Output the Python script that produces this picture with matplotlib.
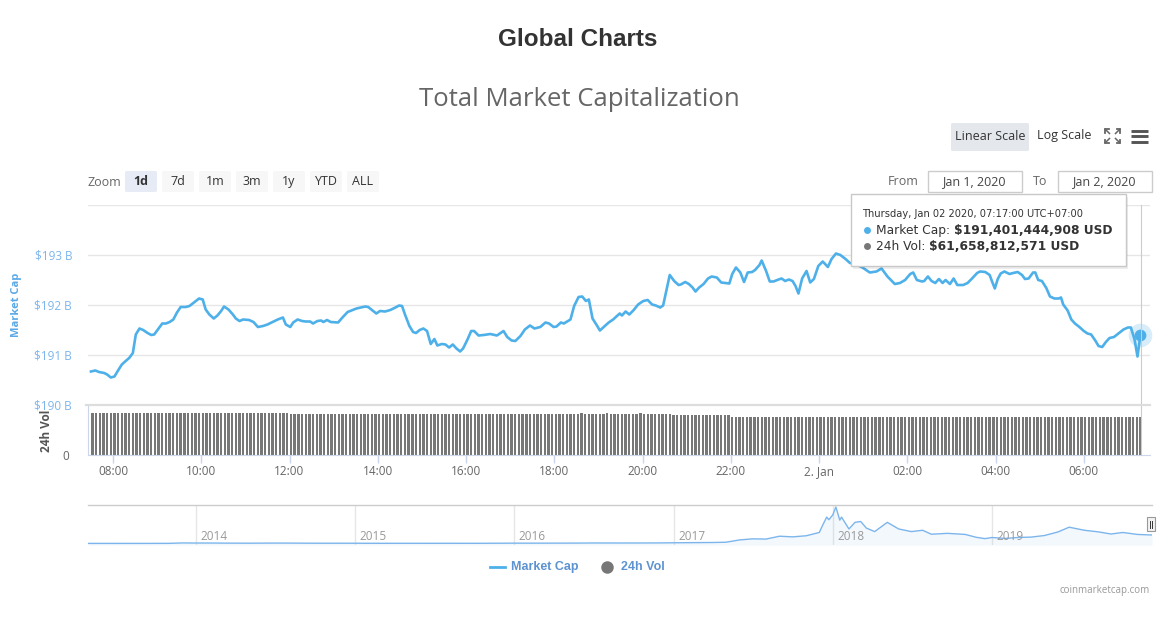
import matplotlib
matplotlib.use("Agg")
import matplotlib.pyplot as plt
import pandas as pd
from matplotlib.patches import Rectangle, FancyBboxPatch
from matplotlib.lines import Line2D

W, H = 1168, 622
plt.rcParams['font.family'] = ['Open Sans', 'DejaVu Sans']

# ---------------- data ----------------
# market cap (billion USD), time = minutes since 2020-01-01 00:00 (UTC+7)
mc_minutes = [
    450, 456, 461, 468, 472, 477, 482, 486, 492, 498, 502, 507, 511, 516, 521, 527, 532, 536, 541, 547,
    552, 557, 562, 567, 572, 579, 584, 591, 597, 602, 606, 611, 617, 622, 627, 631, 637, 643, 647, 652,
    657, 665, 671, 677, 684, 690, 697, 704, 711, 715, 721, 725, 731, 737, 742, 748, 752, 758, 763, 766,
    771, 776, 786, 792, 799, 806, 811, 823, 827, 832, 838, 843, 850, 857, 864, 869, 873, 877, 883, 888,
    892, 897, 902, 907, 912, 917, 921, 927, 932, 937, 942, 947, 952, 956, 962, 967, 971, 977, 984, 993,
    1002, 1011, 1016, 1022, 1027, 1034, 1040, 1047, 1053, 1061, 1068, 1073, 1079, 1083, 1089, 1093, 1102, 1107, 1113, 1118,
    1123, 1127, 1132, 1138, 1142, 1148, 1154, 1160, 1169, 1172, 1177, 1182, 1188, 1194, 1201, 1207, 1213, 1218, 1224, 1228,
    1237, 1243, 1249, 1252, 1258, 1263, 1268, 1272, 1277, 1283, 1289, 1294, 1301, 1307, 1312, 1318, 1322, 1327, 1333, 1338,
    1343, 1349, 1353, 1359, 1362, 1368, 1373, 1378, 1385, 1389, 1394, 1399, 1404, 1408, 1412, 1417, 1423, 1428, 1433, 1439,
    1445, 1452, 1457, 1463, 1469, 1476, 1482, 1489, 1499, 1509, 1518, 1525, 1533, 1539, 1543, 1550, 1557, 1564, 1568, 1573,
    1580, 1583, 1588, 1593, 1598, 1603, 1608, 1612, 1618, 1623, 1628, 1636, 1642, 1648, 1655, 1659, 1666, 1672, 1675, 1679,
    1683, 1687, 1692, 1699, 1704, 1710, 1716, 1720, 1725, 1731, 1734, 1738, 1743, 1749, 1754, 1760, 1766, 1769, 1772, 1778,
    1783, 1788, 1794, 1800, 1805, 1810, 1816, 1820, 1825, 1830, 1835, 1841, 1848, 1854, 1860, 1864, 1869, 1873, 1877,
]
mc_values = [
    190.67, 190.69, 190.66, 190.64, 190.61, 190.55, 190.57, 190.67, 190.81, 190.89, 190.94, 191.04, 191.41, 191.53, 191.50, 191.44, 191.40, 191.41, 191.51, 191.63,
    191.63, 191.66, 191.71, 191.85, 191.96, 191.96, 191.98, 192.06, 192.13, 192.11, 191.91, 191.81, 191.73, 191.79, 191.88, 191.97, 191.91, 191.81, 191.73, 191.68,
    191.71, 191.70, 191.66, 191.56, 191.58, 191.61, 191.66, 191.71, 191.75, 191.61, 191.56, 191.65, 191.71, 191.68, 191.67, 191.67, 191.63, 191.68, 191.69, 191.66,
    191.70, 191.66, 191.65, 191.75, 191.86, 191.90, 191.93, 191.97, 191.96, 191.90, 191.83, 191.88, 191.87, 191.90, 191.95, 191.99, 191.98, 191.81, 191.58, 191.46,
    191.44, 191.50, 191.53, 191.48, 191.22, 191.32, 191.19, 191.22, 191.21, 191.15, 191.21, 191.13, 191.07, 191.13, 191.31, 191.48, 191.48, 191.39, 191.40, 191.42,
    191.39, 191.48, 191.36, 191.29, 191.28, 191.38, 191.51, 191.59, 191.53, 191.56, 191.65, 191.63, 191.56, 191.57, 191.65, 191.63, 191.71, 191.98, 192.16, 192.17,
    192.08, 192.11, 191.73, 191.59, 191.49, 191.57, 191.65, 191.71, 191.83, 191.79, 191.87, 191.81, 191.90, 192.01, 192.08, 192.10, 192.01, 191.99, 191.95, 191.99,
    192.60, 192.48, 192.40, 192.41, 192.46, 192.42, 192.35, 192.27, 192.35, 192.42, 192.53, 192.57, 192.55, 192.45, 192.44, 192.43, 192.62, 192.75, 192.65, 192.46,
    192.65, 192.66, 192.70, 192.80, 192.89, 192.68, 192.47, 192.47, 192.51, 192.53, 192.48, 192.51, 192.48, 192.38, 192.23, 192.53, 192.68, 192.45, 192.52, 192.78,
    192.87, 192.76, 192.92, 193.03, 193.00, 192.92, 192.84, 192.82, 192.75, 192.65, 192.67, 192.73, 192.57, 192.48, 192.42, 192.44, 192.50, 192.62, 192.65, 192.50,
    192.47, 192.48, 192.57, 192.48, 192.44, 192.52, 192.44, 192.50, 192.42, 192.53, 192.40, 192.40, 192.44, 192.53, 192.64, 192.67, 192.66, 192.60, 192.48, 192.33,
    192.52, 192.63, 192.67, 192.62, 192.64, 192.66, 192.60, 192.52, 192.53, 192.65, 192.65, 192.50, 192.48, 192.34, 192.17, 192.13, 192.13, 192.15, 192.01, 191.89,
    191.71, 191.63, 191.56, 191.48, 191.43, 191.41, 191.28, 191.18, 191.16, 191.26, 191.34, 191.36, 191.44, 191.51, 191.55, 191.55, 191.31, 190.97, 191.40,
]

# 24h volume (billion USD), one bar every 5 minutes starting 07:32
vol_start_minute = 452
vol_step_minutes = 5
vol_values = [
    69.4, 69.4, 69.5, 69.4, 69.4, 69.3, 69.4, 69.4, 69.5, 69.4, 69.4, 69.4,
    69.4, 69.5, 69.4, 69.4, 69.3, 69.4, 69.4, 69.4, 69.4, 69.5, 69.4, 69.4,
    69.4, 69.4, 69.4, 69.3, 69.4, 69.4, 69.5, 69.4, 69.4, 69.4, 69.4, 69.4,
    69.4, 69.4, 69.3, 69.4, 69.4, 69.4, 69.4, 69.5, 69.4, 69.4, 69.3, 69.4,
    69.4, 69.4, 69.4, 69.4, 69.3, 69.4, 67.2, 67.2, 67.3, 67.2, 67.2, 67.1,
    67.2, 67.2, 67.2, 67.3, 67.2, 67.2, 67.1, 67.2, 67.2, 67.2, 67.3, 67.2,
    67.2, 67.2, 67.1, 67.2, 67.2, 67.2, 67.2, 67.3, 67.2, 67.2, 67.2, 67.1,
    67.2, 67.2, 67.3, 67.2, 67.2, 67.2, 67.2, 67.1, 67.2, 67.2, 67.2, 67.3,
    67.2, 67.2, 67.2, 67.2, 67.1, 67.2, 67.2, 67.3, 67.2, 67.2, 67.2, 67.2,
    67.2, 67.3, 67.2, 67.2, 67.1, 67.2, 67.2, 67.2, 67.2, 67.3, 67.2, 67.2,
    67.2, 67.2, 67.2, 67.1, 67.2, 67.2, 67.3, 67.2, 67.2, 67.2, 67.2, 67.2,
    68.0, 68.1, 68.0, 68.0, 68.0, 67.9, 68.0, 68.0, 68.1, 68.0, 68.0, 68.0,
    68.0, 68.0, 67.9, 68.0, 68.0, 68.1, 68.0, 68.0, 68.0, 68.0, 68.0, 67.9,
    68.0, 68.0, 65.0, 65.0, 65.1, 65.0, 65.0, 64.9, 65.0, 65.0, 65.0, 65.1,
    65.0, 65.0, 65.0, 64.9, 65.0, 65.0, 62.6, 62.4, 62.8, 62.5, 62.3, 62.6,
    62.4, 62.7, 62.2, 62.5, 62.3, 62.6, 62.1, 62.4, 62.6, 62.2, 62.5, 62.3,
    62.0, 62.4, 62.6, 62.1, 62.3, 62.5, 62.2, 62.0, 62.4, 62.3, 62.6, 62.1,
    62.3, 62.0, 62.2, 62.5, 62.1, 62.3, 62.0, 62.4, 62.2, 61.9, 62.3, 62.1,
    62.0, 62.3, 61.8, 62.1, 62.4, 62.0, 62.2, 61.8, 62.1, 62.3, 61.9, 62.0,
    62.2, 61.8, 62.0, 62.3, 61.9, 62.1, 61.7, 62.0, 62.2, 61.8, 62.0, 61.9,
    61.7, 62.0, 62.2, 61.8, 61.9, 62.1, 61.7, 61.9, 62.0, 61.6, 61.9, 62.1,
    61.8, 61.6, 61.9, 62.0, 61.7, 61.9, 61.6, 61.8, 62.0, 61.7, 61.8, 61.9,
    61.7, 61.9, 61.6, 61.8, 62.0, 61.7, 61.6, 61.9, 61.8, 61.7, 61.9, 61.6,
    61.8, 61.7, 61.9, 61.6, 61.8, 61.9, 61.7, 61.8, 61.7, 61.66,
]

tick_minutes = [480, 600, 720, 840, 960, 1080, 1200, 1320, 1440, 1560, 1680, 1800]
tick_labels = ["08:00", "10:00", "12:00", "14:00", "16:00", "18:00", "20:00", "22:00",
               "2. Jan", "02:00", "04:00", "06:00"]
price_ticks = [190, 191, 192, 193, 194]
price_tick_labels = ["$190 B", "$191 B", "$192 B", "$193 B", ""]

# navigator: total market cap history (billion USD)
nav_dates = [
    "2013-04-28", "2013-05-31", "2013-06-30", "2013-07-31", "2013-08-31", "2013-09-30", "2013-10-31", "2013-11-30", "2013-12-31",
    "2014-01-31", "2014-02-28", "2014-03-31", "2014-04-30", "2014-05-31", "2014-06-30", "2014-07-31", "2014-08-31", "2014-09-30", "2014-10-31", "2014-11-30", "2014-12-31",
    "2015-01-31", "2015-02-28", "2015-03-31", "2015-04-30", "2015-05-31", "2015-06-30", "2015-07-31", "2015-08-31", "2015-09-30", "2015-10-31", "2015-11-30", "2015-12-31",
    "2016-01-31", "2016-02-29", "2016-03-31", "2016-04-30", "2016-05-31", "2016-06-30", "2016-07-31", "2016-08-31", "2016-09-30", "2016-10-31", "2016-11-30", "2016-12-31",
    "2017-01-31", "2017-02-28", "2017-03-31", "2017-04-30", "2017-05-31", "2017-06-30", "2017-07-31", "2017-08-31", "2017-09-30", "2017-10-31", "2017-11-30",
    "2017-12-08", "2017-12-17", "2017-12-22", "2017-12-31", "2018-01-07", "2018-01-16", "2018-01-20", "2018-02-06", "2018-02-20", "2018-03-05", "2018-03-18",
    "2018-04-06", "2018-05-05", "2018-05-31", "2018-06-29", "2018-07-25", "2018-08-14", "2018-09-20", "2018-10-31", "2018-11-25", "2018-12-15", "2018-12-31",
    "2019-01-31", "2019-02-28", "2019-03-31", "2019-04-30", "2019-05-31", "2019-06-26", "2019-07-31", "2019-08-31", "2019-09-30", "2019-10-27", "2019-11-30", "2019-12-31", "2020-01-02",
]
nav_values = [
    1.5, 1.3, 1.1, 1.2, 1.4, 1.7, 2.5, 12.0, 10.0,
    10.0, 8.0, 7.0, 6.0, 7.5, 8.5, 8.5, 6.5, 5.5, 5.0, 5.5, 5.0,
    3.8, 3.6, 3.6, 3.5, 3.4, 3.7, 4.3, 3.5, 3.5, 4.5, 5.5, 6.9,
    6.5, 6.9, 7.3, 7.6, 9.0, 11.0, 10.5, 10.3, 10.5, 11.5, 12.5, 15.5,
    17.5, 20.0, 22.0, 28.0, 80.0, 105.0, 100.0, 165.0, 150.0, 175.0, 250.0,
    420.0, 600.0, 540.0, 650.0, 830.0, 530.0, 600.0, 330.0, 480.0, 500.0, 350.0,
    270.0, 480.0, 330.0, 270.0, 300.0, 210.0, 230.0, 205.0, 140.0, 110.0, 135.0,
    115.0, 135.0, 145.0, 180.0, 260.0, 370.0, 300.0, 265.0, 215.0, 250.0, 205.0, 193.0, 193.0,
]
nav_years = ["2014", "2015", "2016", "2017", "2018", "2019"]

zoom_buttons = ["1d", "7d", "1m", "3m", "1y", "YTD", "ALL"]

tooltip_header = "Thursday, Jan 02 2020, 07:17:00 UTC+07:00"
tooltip_rows = [("Market Cap: ", "$191,401,444,908 USD"), ("24h Vol: ", "$61,658,812,571 USD")]

# ---------------- styling ----------------
LINE = "#4eb0e9"
AXBLUE = "#7cb5ec"
GRID = "#e6e6e6"
TIPFONT = ["DejaVu Sans"]


def fx(x):
    return x / W


def fy(y):
    return 1 - y / H


def rect(x0, y0, x1, y1):
    return [x0 / W, 1 - y1 / H, (x1 - x0) / W, (y1 - y0) / H]


fig = plt.figure(figsize=(W / 100, H / 100), dpi=100)
fig.patch.set_facecolor("white")

# ---------------- price panel ----------------
ax = fig.add_axes(rect(88, 205, 1150, 405))
ax.set_facecolor("none")
ax.plot(mc_minutes, mc_values, color=LINE, lw=1.9, solid_joinstyle="round", zorder=3)
ax.set_xlim(446, 1890)
ax.set_ylim(190, 194)
ax.set_yticks(price_ticks)
ax.set_yticklabels(price_tick_labels)
ax.tick_params(axis="y", length=0, pad=11.5, labelsize=8.5, labelcolor=AXBLUE)
ax.set_xticks([])
ax.grid(axis="y", color=GRID, lw=1)
for sp in ax.spines.values():
    sp.set_visible(False)
# hover marker
ax.plot([mc_minutes[-1]], [mc_values[-1]], "o", ms=17, color=LINE, alpha=0.22, mew=0, clip_on=False, zorder=4)
ax.plot([mc_minutes[-1]], [mc_values[-1]], "o", ms=8.5, color=LINE, mew=0, clip_on=False, zorder=5)

# ---------------- volume panel ----------------
axv = fig.add_axes(rect(88, 405, 1150, 455))
axv.set_facecolor("none")
vol_minutes = [vol_start_minute + vol_step_minutes * i for i in range(len(vol_values))]
axv.bar(vol_minutes, vol_values, width=3.2, color="#777777", lw=0)
axv.set_xlim(446, 1890)
axv.set_ylim(0, 82)
axv.set_yticks([0])
axv.set_yticklabels(["0"])
axv.tick_params(axis="y", length=0, pad=13.5, labelsize=8.5, labelcolor="#666666")
axv.set_xticks(tick_minutes)
axv.set_xticklabels(tick_labels)
axv.tick_params(axis="x", length=5.8, width=1, color="#ccd6eb", labelsize=8.5, labelcolor="#666666", pad=1.5)
for k, sp in axv.spines.items():
    sp.set_visible(k in ("bottom", "left"))
    sp.set_color("#ccd6eb")

# divider between panels
fig.add_artist(Line2D([fx(86), fx(1150)], [fy(405), fy(405)], color="#dddddd", lw=1.6))
# crosshair
fig.add_artist(Line2D([fx(1140.5), fx(1140.5)], [fy(205), fy(455)], color="#cccccc", lw=0.8, zorder=0.5))

# axis titles
fig.text(fx(17), fy(305), "Market Cap", rotation=90, ha="center", va="center",
         fontsize=8, fontweight="bold", color="#5aa9e6")
fig.text(fx(47), fy(431), "24h Vol", rotation=90, ha="center", va="center",
         fontsize=8.5, fontweight="bold", color="#555555")

# ---------------- header ----------------
fig.text(fx(578), fy(40), "Global Charts", ha="center", va="center", fontsize=17.5,
         fontweight="bold", color="#333333", family=["Liberation Sans", "DejaVu Sans"])
fig.text(fx(579), fy(100), "Total Market Capitalization", ha="center", va="center",
         fontsize=18.5, color="#666666")

# zoom buttons
fig.text(fx(87), fy(182), "Zoom", ha="left", va="center", fontsize=9, color="#666666")
for i, lab in enumerate(zoom_buttons):
    x0 = 125 + 37 * i
    fc = "#e6ebf5" if i == 0 else "#f7f7f7"
    fig.add_artist(FancyBboxPatch((fx(x0), fy(192)), 32 / W, 21 / H,
                                  boxstyle="round,pad=0,rounding_size=0.002",
                                  transform=fig.transFigure, fc=fc, ec="none"))
    fig.text(fx(x0 + 16), fy(181.5), lab, ha="center", va="center", fontsize=9,
             color="#333333", fontweight="bold" if i == 0 else "normal")

# scale buttons
fig.add_artist(FancyBboxPatch((fx(951), fy(151)), 78 / W, 28 / H,
                              boxstyle="round,pad=0,rounding_size=0.002",
                              transform=fig.transFigure, fc="#e4e7ec", ec="none"))
fig.text(fx(990), fy(136), "Linear Scale", ha="center", va="center", fontsize=9, color="#333333")
fig.text(fx(1064), fy(136), "Log Scale", ha="center", va="center", fontsize=9, color="#333333")

# fullscreen icon
for cx, cy, dx, dy in [(1105, 129, 1, 1), (1120, 129, -1, 1), (1105, 143, 1, -1), (1120, 143, -1, -1)]:
    fig.add_artist(Line2D([fx(cx), fx(cx + 4.5 * dx)], [fy(cy), fy(cy + 4.5 * dy)], color="#666666", lw=1.1))
    fig.add_artist(Line2D([fx(cx + 3.5 * dx), fx(cx), fx(cx)], [fy(cy), fy(cy), fy(cy + 3.5 * dy)],
                          color="#666666", lw=1.3))
# hamburger
for yy in (130.5, 136, 141.5):
    fig.add_artist(Line2D([fx(1131), fx(1148)], [fy(yy), fy(yy)], color="#555555", lw=2.1,
                          solid_capstyle="butt"))

# date range inputs
fig.text(fx(919), fy(181.5), "From", ha="right", va="center", fontsize=9, color="#666666")
fig.add_artist(Rectangle((fx(927.5), fy(192)), 94 / W, 21 / H, transform=fig.transFigure,
                         fc="white", ec="#cccccc", lw=1))
fig.text(fx(974), fy(181.5), "Jan 1, 2020", ha="center", va="center", fontsize=9, color="#444444")
fig.text(fx(1047), fy(181.5), "To", ha="right", va="center", fontsize=9, color="#666666")
fig.add_artist(Rectangle((fx(1057.5), fy(192)), 94 / W, 21 / H, transform=fig.transFigure,
                         fc="white", ec="#cccccc", lw=1))
fig.text(fx(1104), fy(181.5), "Jan 2, 2020", ha="center", va="center", fontsize=9, color="#444444")

# ---------------- navigator ----------------
axn = fig.add_axes(rect(88, 505, 1152, 545))
nav_dt = pd.to_datetime(nav_dates)
axn.fill_between(nav_dt, nav_values, -35, color=AXBLUE, alpha=0.09, lw=0)
axn.plot(nav_dt, nav_values, color=AXBLUE, lw=1)
axn.set_xlim(pd.Timestamp("2013-04-28"), pd.Timestamp("2020-01-02"))
axn.set_ylim(-35, 875)
for yr in nav_years:
    d = pd.Timestamp(f"{yr}-01-01")
    axn.axvline(d, color=GRID, lw=1, zorder=0)
    axn.annotate(yr, xy=(d, 0.225), xycoords=("data", "axes fraction"), xytext=(3, 0),
                 textcoords="offset points", ha="left", va="center", fontsize=8.5, color="#999999")
axn.set_xticks([])
axn.set_yticks([])
for sp in axn.spines.values():
    sp.set_visible(False)
fig.add_artist(Line2D([fx(88), fx(1152)], [fy(505), fy(505)], color="#cccccc", lw=1))
# handle
fig.add_artist(Rectangle((fx(1147), fy(531)), 8 / W, 14 / H, transform=fig.transFigure,
                         fc="#f2f2f2", ec="#999999", lw=0.8))
for xx in (1150, 1152):
    fig.add_artist(Line2D([fx(xx), fx(xx)], [fy(520.5), fy(527.5)], color="#333333", lw=0.7))

# ---------------- legend / credits ----------------
fig.add_artist(Line2D([fx(490), fx(505)], [fy(567), fy(567)], color=LINE, lw=2))
fig.text(fx(511), fy(567), "Market Cap", ha="left", va="center", fontsize=9, fontweight="bold",
         color="#5d93d1", family=["Liberation Sans", "DejaVu Sans"])
fig.add_artist(Line2D([fx(607)], [fy(567)], marker="o", ms=9, color="#777777", mew=0))
fig.text(fx(621), fy(567), "24h Vol", ha="left", va="center", fontsize=9, fontweight="bold",
         color="#5d93d1", family=["Liberation Sans", "DejaVu Sans"])
fig.text(fx(1150), fy(590), "coinmarketcap.com", ha="right", va="center", fontsize=7, color="#999999")

# ---------------- tooltip ----------------
fig.add_artist(Rectangle((fx(853), fy(268.5)), 275 / W, 72 / H, transform=fig.transFigure,
                         fc="black", alpha=0.07, ec="none", zorder=6))
fig.add_artist(Rectangle((fx(851), fy(266)), 275 / W, 72 / H, transform=fig.transFigure,
                         fc="white", ec="#c8c8c8", lw=1, zorder=7))
fig.text(fx(862), fy(214), tooltip_header, ha="left", va="center", fontsize=7.1, color="#333333",
         zorder=8, family=TIPFONT)
renderer = fig.canvas.get_renderer()
for (lab, val), yy, dc in zip(tooltip_rows, (230, 246), (LINE, "#777777")):
    fig.add_artist(Line2D([fx(867)], [fy(yy)], marker="o", ms=5, color=dc, mew=0, zorder=8))
    t = fig.text(fx(876), fy(yy), lab, ha="left", va="center", fontsize=8.8, color="#333333",
                 zorder=8, family=TIPFONT)
    bb = t.get_window_extent(renderer)
    fig.text(bb.x1 / W, fy(yy), val, ha="left", va="center", fontsize=8.8, fontweight="bold",
             color="#333333", zorder=8, family=TIPFONT)

fig.savefig("out.png", dpi=100, facecolor="white")
